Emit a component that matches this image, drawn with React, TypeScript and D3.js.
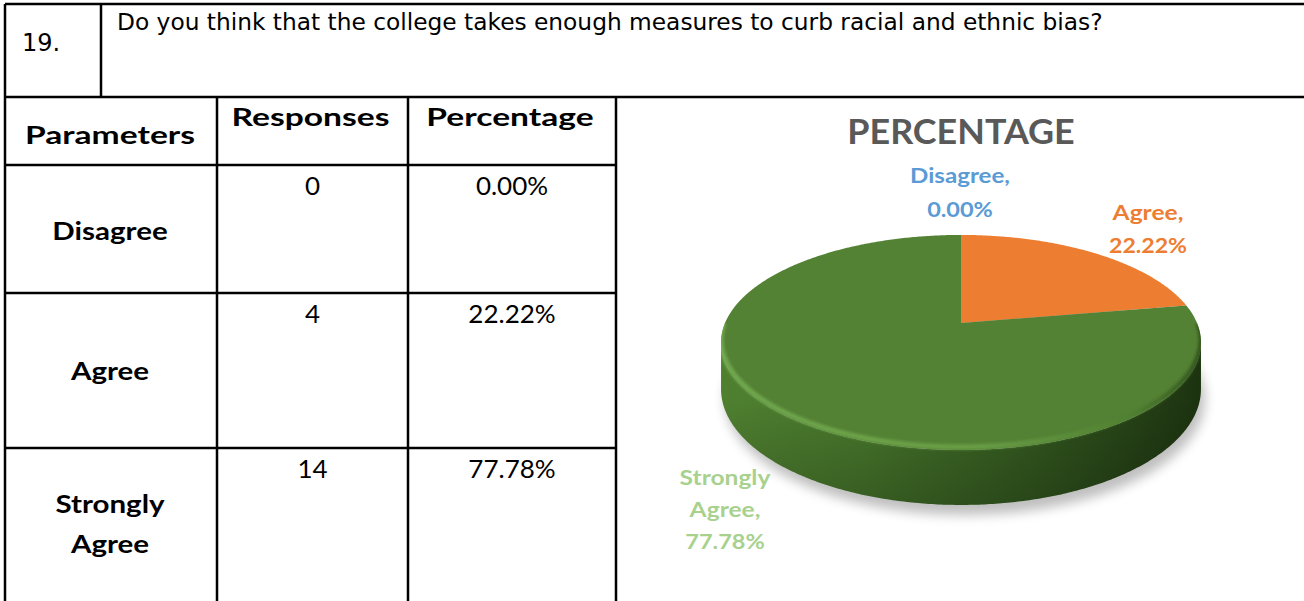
import React from 'react';
import * as d3 from 'd3';

const questionNumber = '19.';
const questionText = 'Do you think that the college takes enough measures to curb racial and ethnic bias?';
const tableHeaders = ['Parameters', 'Responses', 'Percentage'];
const categories = ['Disagree', 'Agree', 'Strongly Agree'];
const categoryLines = [['Disagree'], ['Agree'], ['Strongly', 'Agree']];
const responses = [0, 4, 14];
const percentages = [0.0, 22.22, 77.78];
const sliceColors = ['#5B9BD5', '#ED7D31', '#548235'];
const labelColors = ['#5B9BD5', '#ED7D31', '#A9D18E'];
const chartTitle = 'PERCENTAGE';

const W = 1304;
const H = 601;
const colX = [5, 217, 408, 616];
const rowY = [4, 97, 165, 293, 448, 601];

// pie projection (perspective tilt)
const PCX = 961;
const PCY = 323;
const SX = 236;
const SY = 104;
const PC = 0.181;
const DEPTH = 45;

function proj(theta: number, bottom = false): [number, number] {
  const X = Math.sin(theta);
  const Z = Math.cos(theta);
  const den = 1 + PC * Z;
  const x = PCX + (SX * X) / den;
  const y = PCY - (SY * Z) / den + (bottom ? DEPTH / den : 0);
  return [x, y];
}

function rimPoints(a0: number, a1: number, bottom = false): [number, number][] {
  const n = Math.max(2, Math.ceil(Math.abs(a1 - a0) / 0.01));
  return d3.range(n + 1).map((i) => proj(a0 + ((a1 - a0) * i) / n, bottom));
}

const line = d3.line();

const CAL = 'Lato, "Open Sans", sans-serif';
const TAH = '"DejaVu Sans", Verdana, sans-serif';

type STProps = {
  x: number;
  y: number;
  sx: number;
  size: number;
  weight?: number;
  fill?: string;
  family?: string;
  anchor?: string;
  children: React.ReactNode;
};

function SText({ x, y, sx, size, weight = 400, fill = '#000', family = CAL, anchor = 'middle', children }: STProps) {
  return (
    <g transform={`translate(${x},${y}) scale(${sx},1)`}>
      <text x={0} y={0} textAnchor={anchor} fontFamily={family} fontWeight={weight} fontSize={size} fill={fill}>
        {children}
      </text>
    </g>
  );
}

export default function App() {
  const pieData = d3
    .pie<number>()
    .sort(null)
    .value((d) => d)(percentages);

  const t1 = Math.acos(-PC);
  const t2 = 2 * Math.PI - t1;
  const sidePts = [...rimPoints(t1, t2, false), ...rimPoints(t2, t1, true)];
  const sidePath = line(sidePts) + 'Z';
  const topEllipse = line(rimPoints(0, 2 * Math.PI, false)) + 'Z';
  const bottomEllipse = line(rimPoints(0, 2 * Math.PI, true)) + 'Z';
  const frontRim = line(rimPoints(t1 - 0.15, t2 + 0.15, false));

  const slicePaths = pieData.map((d) => {
    if (d.endAngle - d.startAngle <= 0) return null;
    const pts: [number, number][] = [[PCX, PCY], ...rimPoints(d.startAngle, d.endAngle)];
    return line(pts) + 'Z';
  });

  const labelCenters = [240, 380, 533];
  const c0 = (colX[0] + colX[1]) / 2;

  return (
    <svg width={W} height={H} style={{ position: 'absolute', left: 0, top: 0, background: '#fff' }}>
      <defs>
        <linearGradient id="sideGrad" gradientUnits="userSpaceOnUse" x1={720} y1={0} x2={1203} y2={0}>
          <stop offset="0" stopColor="#4f8030" />
          <stop offset="0.3" stopColor="#46752b" />
          <stop offset="0.65" stopColor="#33581f" />
          <stop offset="1" stopColor="#1c3210" />
        </linearGradient>
        <linearGradient id="sideShade" gradientUnits="userSpaceOnUse" x1={0} y1={400} x2={0} y2={510}>
          <stop offset="0" stopColor="#000" stopOpacity="0" />
          <stop offset="1" stopColor="#000" stopOpacity="0.22" />
        </linearGradient>
        <linearGradient id="bevelGrad" gradientUnits="userSpaceOnUse" x1={720} y1={0} x2={1203} y2={0}>
          <stop offset="0" stopColor="#7ab455" />
          <stop offset="0.55" stopColor="#6ea44a" />
          <stop offset="0.85" stopColor="#4f8030" />
          <stop offset="1" stopColor="#2a4818" />
        </linearGradient>
        <clipPath id="pieClip">
          <path d={topEllipse} />
          <path d={sidePath} />
        </clipPath>
        <filter id="shadowBlur" x="-20%" y="-50%" width="140%" height="200%">
          <feGaussianBlur stdDeviation="6" />
        </filter>
        <filter id="bevelBlur" x="-10%" y="-20%" width="120%" height="140%">
          <feGaussianBlur stdDeviation="1.8" />
        </filter>
      </defs>

      {/* Table grid */}
      <g stroke="#000" strokeWidth={2.5} fill="none">
        <line x1={colX[0]} x2={W} y1={rowY[0]} y2={rowY[0]} />
        <line x1={colX[0]} x2={W} y1={rowY[1]} y2={rowY[1]} />
        {[2, 3, 4].map((i) => (
          <line key={i} x1={colX[0]} x2={colX[3]} y1={rowY[i]} y2={rowY[i]} />
        ))}
        <line x1={colX[0]} x2={colX[0]} y1={rowY[0]} y2={H} />
        <line x1={101} x2={101} y1={rowY[0]} y2={rowY[1]} />
        {[1, 2, 3].map((i) => (
          <line key={i} x1={colX[i]} x2={colX[i]} y1={rowY[1]} y2={H} />
        ))}
      </g>

      {/* Question row */}
      <text x={22} y={51} fontFamily={TAH} fontSize={24} fill="#000">
        {questionNumber}
      </text>
      <text x={117} y={30} fontFamily={TAH} fontSize={23.3} fill="#000">
        {questionText}
      </text>

      {/* Table header */}
      <SText x={110} y={144} sx={1.4} size={24} weight={700}>
        {tableHeaders[0]}
      </SText>
      {[1, 2].map((i) => (
        <SText key={i} x={(colX[i] + colX[i + 1]) / 2 - 2} y={126} sx={1.4} size={24} weight={700}>
          {tableHeaders[i]}
        </SText>
      ))}

      {/* Table body */}
      {categories.map((c, i) => (
        <g key={c}>
          {categoryLines[i].map((ln, j) => (
            <SText
              key={j}
              x={c0 - 1}
              y={labelCenters[i] + (j - (categoryLines[i].length - 1) / 2) * 40}
              sx={1.23}
              size={24}
              weight={700}
            >
              {ln}
            </SText>
          ))}
          <SText x={(colX[1] + colX[2]) / 2} y={rowY[i + 2] + 30} sx={1.04} size={25}>
            {responses[i]}
          </SText>
          <SText x={(colX[2] + colX[3]) / 2} y={rowY[i + 2] + 30} sx={1.04} size={25}>
            {percentages[i].toFixed(2)}%
          </SText>
        </g>
      ))}

      {/* Chart title */}
      <SText x={PCX} y={144} sx={1.056} size={34} weight={700} fill="#595959">
        {chartTitle}
      </SText>

      {/* Pie */}
      <path d={bottomEllipse} transform="translate(4,10)" fill="#000" opacity={0.25} filter="url(#shadowBlur)" />
      <path d={sidePath} fill="url(#sideGrad)" />
      <path d={sidePath} fill="url(#sideShade)" />
      {slicePaths.map((p, i) => (p ? <path key={i} d={p} fill={sliceColors[i]} /> : null))}
      <g clipPath="url(#pieClip)">
        <path
          d={frontRim ?? ''}
          fill="none"
          stroke="url(#bevelGrad)"
          strokeWidth={5}
          opacity={0.8}
          transform="translate(0,-3)"
          filter="url(#bevelBlur)"
        />
      </g>

      {/* Data labels */}
      <SText x={960} y={183} sx={1.15} size={21} weight={700} fill={labelColors[0]}>
        {categories[0]},
      </SText>
      <SText x={960} y={217} sx={1.12} size={21} weight={700} fill={labelColors[0]}>
        {percentages[0].toFixed(2)}%
      </SText>
      <SText x={1148} y={220} sx={1.17} size={21} weight={700} fill={labelColors[1]}>
        {categories[1]},
      </SText>
      <SText x={1148} y={253} sx={1.1} size={21} weight={700} fill={labelColors[1]}>
        {percentages[1].toFixed(2)}%
      </SText>
      <SText x={725} y={485} sx={1.17} size={21} weight={700} fill={labelColors[2]}>
        Strongly
      </SText>
      <SText x={725} y={517} sx={1.17} size={21} weight={700} fill={labelColors[2]}>
        Agree,
      </SText>
      <SText x={725} y={549} sx={1.12} size={21} weight={700} fill={labelColors[2]}>
        {percentages[2].toFixed(2)}%
      </SText>
    </svg>
  );
}
